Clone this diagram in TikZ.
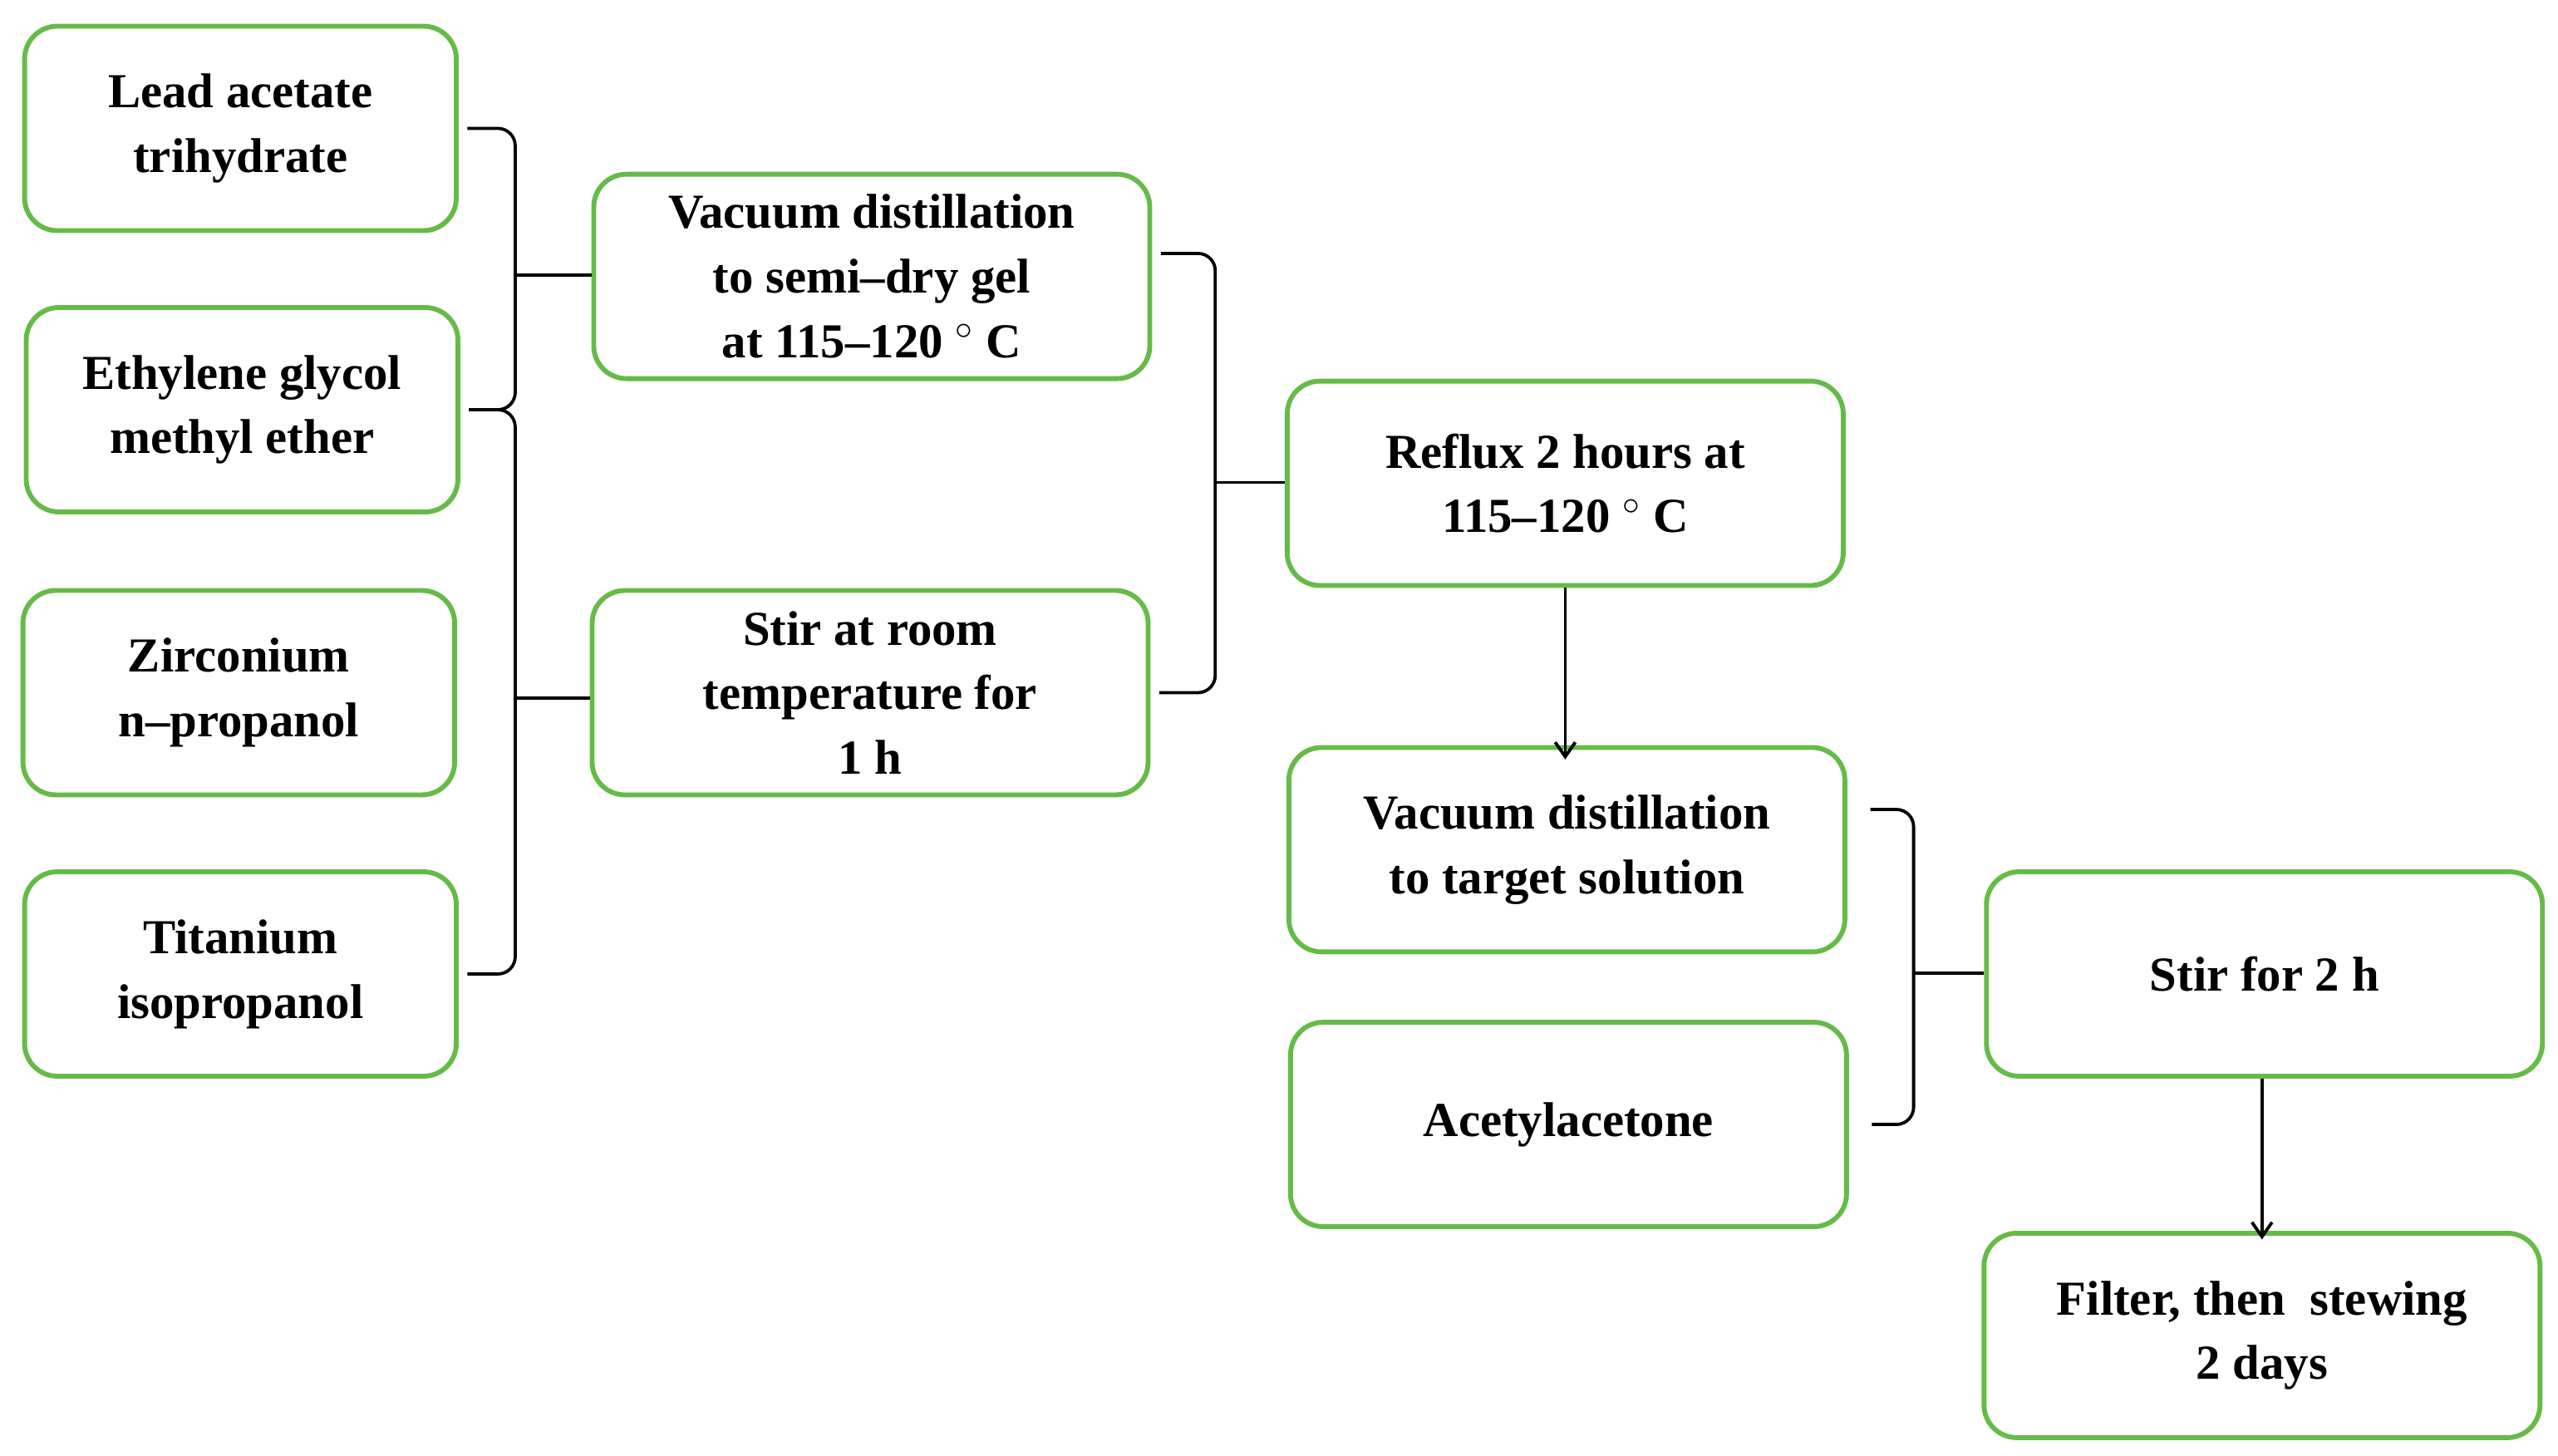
\documentclass[tikz,border=0pt]{standalone}
\usepackage{fontspec}
\setmainfont{Liberation Serif}
\usetikzlibrary{arrows.meta}
\definecolor{grn}{RGB}{102,187,72}
\begin{document}
\begin{tikzpicture}[x=0.02cm,y=-0.02cm,
 box/.style={draw=grn,line width=1.7pt,rounded corners=0.4cm,minimum height=2.5cm,align=center,inner sep=0pt,font=\fontsize{17}{22.5}\selectfont\bfseries},
 sm/.style={box,minimum width=5.28cm},
 lg/.style={box,minimum width=6.8cm},
 br/.style={draw,line width=1.1pt,rounded corners=6pt},
 tip/.style={draw,line width=1.1pt},
 ar/.style={draw,line width=1.1pt,-{Straight Barb[length=5pt,width=7pt]}}]
\useasboundingbox (0,0) rectangle (1564,890);
\node[sm] (n1) at (147,78.5) {Lead acetate\\trihydrate};
\node[sm] (n2) at (148,250.5) {Ethylene glycol\\methyl ether};
\node[sm] (n3) at (146,423.5) {Zirconium\\n--propanol};
\node[sm] (n4) at (147,595.5) {Titanium\\isopropanol};
\node[lg] (n5) at (533,169) {Vacuum distillation\\to semi--dry gel\\at 115--120 $^{\circ}$ C};
\node[lg] (n6) at (532,423.5) {Stir at room\\temperature for\\1 h};
\node[lg] (n7) at (957,295.5) {Reflux 2 hours at\\115--120 $^{\circ}$ C};
\node[lg] (n8) at (958,519.5) {Vacuum distillation\\to target solution};
\node[lg] (n9) at (959,687.5) {Acetylacetone};
\node[lg] (n10) at (1384.5,595.5) {Stir for 2 h};
\node[lg] (n11) at (1383,816.5) {Filter, then\ \ stewing\\2 days};
\coordinate (t1) at (315,168);
\coordinate (t2) at (315,427);
\coordinate (t3) at (743,295);
\coordinate (t4) at (1170,595);
\draw[br] ([xshift=3]n1.east) -| (t1) |- ([xshift=3]n2.east);
\draw[tip] (t1) -- (t1 -| n5.west);
\draw[br] ([xshift=3]n2.east) -| (t2) |- ([xshift=3]n4.east);
\draw[tip] (t2) -- (t2 -| n6.west);
\draw[br] ([xshift=3,yshift=8]n5.east) -| (t3) |- ([xshift=3]n6.east);
\draw[tip] (t3) -- (t3 -| n7.west);
\draw[br] ([xshift=8,yshift=14]n8.east) -| (t4) |- ([xshift=8]n9.east);
\draw[tip] (t4) -- (t4 -| n10.west);
\draw[ar] (n7.south) -- ([yshift=-5]n7.south |- n8.north);
\draw[ar] (n11.north |- n10.south) -- ([yshift=-3]n11.north);
\end{tikzpicture}
\end{document}
